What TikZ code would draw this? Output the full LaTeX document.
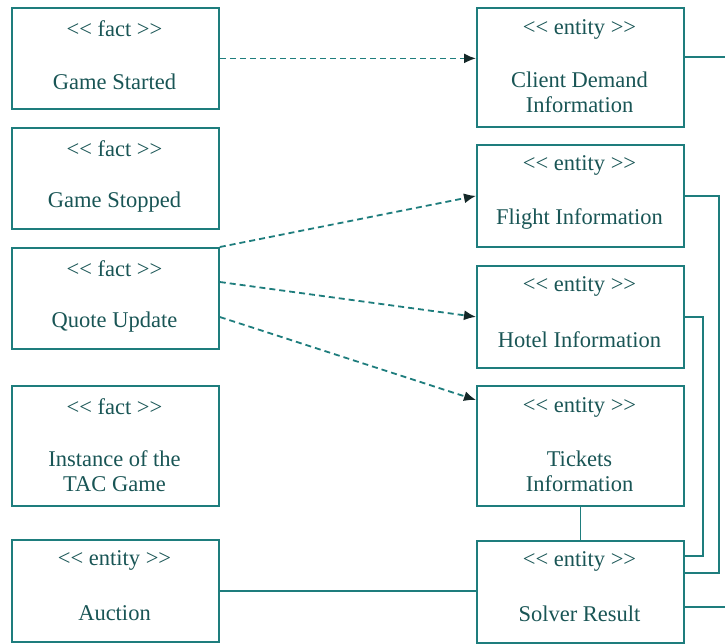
\documentclass[tikz,border=0pt]{standalone}
\usepackage{fontspec}
\setmainfont{Liberation Serif}
\usetikzlibrary{arrows.meta}
\definecolor{uml}{RGB}{30,125,125}
\definecolor{umltext}{RGB}{25,85,85}
\definecolor{tip}{RGB}{20,40,40}
\tikzset{
  umlbox/.style={draw=uml, line width=1.8pt, minimum width=207pt, anchor=north west, inner sep=0pt, fill=white},
  lbl/.style={text=umltext, font=\fontsize{22.5}{25}\selectfont, align=center, inner sep=0pt},
  conn/.style={draw=uml, line width=1.8pt},
  dep/.style={draw=uml, line width=1.8pt, dash pattern=on 6pt off 4pt, -{Latex[length=12pt,width=10pt,fill=tip,color=tip]}},
}
\newcommand{\ster}[1]{<{}< #1 >{}>}
\begin{document}
\begin{tikzpicture}[x=1pt,y=-1pt]
\useasboundingbox (0,0) rectangle (725,643);
% left boxes
\node[umlbox, minimum height=101pt] (gs) at (11,7) {};
\node[umlbox, minimum height=101pt] (gp) at (11,127) {};
\node[umlbox, minimum height=101pt] (qu) at (11,247) {};
\node[umlbox, minimum height=120pt] (in) at (11,385) {};
\node[umlbox, minimum height=102pt] (au) at (11,539) {};
% right boxes
\node[umlbox, minimum height=119pt] (cd) at (476,7) {};
\node[umlbox, minimum height=102pt] (fl) at (476,144) {};
\node[umlbox, minimum height=102pt] (ho) at (476,265) {};
\node[umlbox, minimum height=120pt] (ti) at (476,385) {};
\node[umlbox, minimum height=102pt] (so) at (476,540) {};
% labels
\node[lbl] (gs1) at (114.5,29) {\ster{fact}};
\node[lbl] (gs2) at (114.5,82) {Game Started};
\node[lbl] (gp1) at (114.5,149) {\ster{fact}};
\node[lbl] (gp2) at (114.5,202) {Game Stopped};
\node[lbl] (qu1) at (114.5,269) {\ster{fact}};
\node[lbl] (qu2) at (114.5,322) {Quote Update};
\node[lbl] (in1) at (114.5,407) {\ster{fact}};
\node[lbl] (in2) at (114.5,471) {Instance of the\\TAC Game};
\node[lbl] (au1) at (114.5,560) {\ster{entity}};
\node[lbl] (au2) at (114.5,613) {Auction};
\node[lbl] (cd1) at (579.5,29) {\ster{entity}};
\node[lbl] (cd2) at (579.5,92) {Client Demand\\Information};
\node[lbl] (fl1) at (579.5,165) {\ster{entity}};
\node[lbl] (fl2) at (579.5,219) {Flight Information};
\node[lbl] (ho1) at (579.5,286) {\ster{entity}};
\node[lbl] (ho2) at (579.5,340) {Hotel Information};
\node[lbl] (ti1) at (579.5,407) {\ster{entity}};
\node[lbl] (ti2) at (579.5,471) {Tickets\\Information};
\node[lbl] (so1) at (579.5,561) {\ster{entity}};
\node[lbl] (so2) at (579.5,614) {Solver Result};
% edge coordinates
\coordinate (e1) at (725,57);
\coordinate (e2) at (725,607);
% dependencies
\draw[dep] (gs.east) -- (gs.east -| cd.west);
\draw[dep] (qu.north east) -- (fl.west);
\draw[dep] ([yshift=-35pt]qu.north east) -- (ho.west);
\draw[dep] ([yshift=-70pt]qu.north east) -- ([yshift=-15pt]ti.north west);
% associations
\draw[conn] ([yshift=-50pt]cd.north east) -- (e1);
\draw[conn] (fl.east) -- ++(34,0) |- ([yshift=-33pt]so.north east);
\draw[conn] (ho.east) -- ++(18,0) |- ([yshift=-16pt]so.north east);
\draw[conn] ([yshift=-67pt]so.north east) -- (e2);
\draw[conn] (ti.south) -- (so.north);
\draw[conn] (au.east) -- (au.east -| so.west);
\end{tikzpicture}
\end{document}
